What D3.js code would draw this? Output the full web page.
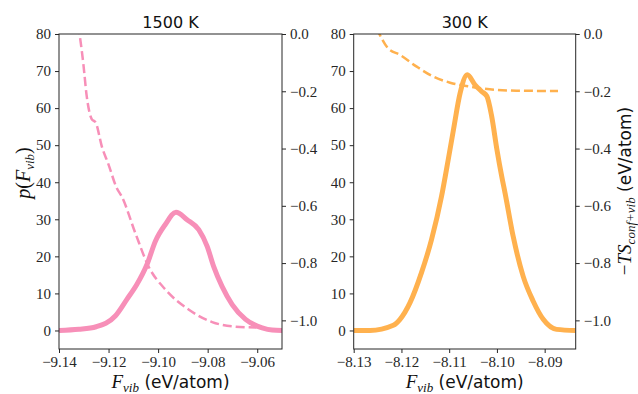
<!DOCTYPE html>
<html lang="en">
<head>
    <meta charset="UTF-8">
    <title>p(F_vib) at 1500 K and 300 K</title>
    <script src="https://d3js.org/d3.v7.min.js"></script>
    <style>
        body { margin: 0; background: #fff; }
        .tick line { stroke: #262626; }
        .sans { font-family: "DejaVu Sans", sans-serif; fill: #111; }
        .serif { font-family: "Liberation Serif", serif; font-style: italic; fill: #111; }
    </style>
</head>
<body>
    <svg width="638" height="394"></svg>
    <script>
        // 1500 K panel
        const hotX = [-9.14, -9.132, -9.125, -9.1173, -9.1126, -9.1086, -9.1045, -9.1011, -9.0971, -9.0928,
                      -9.0883, -9.0836, -9.0802, -9.0776, -9.0742, -9.0701, -9.0647, -9.058, -9.054, -9.05];
        const hotP = [0.0, 0.3, 1.0, 3.9, 8.4, 12.4, 17.8, 24.1, 28.6, 31.9,
                      29.9, 27.2, 22.7, 17.3, 11.9, 7.0, 3.0, 0.7, 0.1, 0.0];
        const hotTsX = [-9.1322, -9.1302, -9.1288, -9.1268, -9.1252, -9.1227, -9.12, -9.1167, -9.1147, -9.1092,
                        -9.1039, -9.0971, -9.0877, -9.0782, -9.0688, -9.0603];
        const hotTs = [0.03, -0.102, -0.218, -0.297, -0.309, -0.393, -0.456, -0.538, -0.567, -0.695,
                       -0.811, -0.892, -0.962, -1.006, -1.022, -1.025];

        // 300 K panel
        const coldX = [-8.13, -8.1266, -8.1217, -8.1203, -8.1182, -8.1158, -8.1137, -8.1116, -8.1102, -8.1091,
                       -8.1077, -8.1062, -8.1046, -8.1032, -8.1021, -8.1011, -8.1, -8.099, -8.0983, -8.0966,
                       -8.0945, -8.0924, -8.0903, -8.0875, -8.0835];
        const coldP = [0.0, 0.0, 1.4, 3.0, 7.5, 15.6, 24.5, 36.2, 46.1, 54.2,
                       64.1, 69.0, 66.3, 64.5, 63.2, 57.8, 48.8, 41.6, 37.1, 25.4,
                       14.6, 7.9, 3.0, 0.3, 0.0];
        const coldTsX = [-8.1252, -8.1228, -8.1203, -8.1168, -8.1133, -8.1098, -8.1056, -8.1015, -8.0959, -8.0872];
        const coldTs = [0.02, -0.05, -0.073, -0.114, -0.149, -0.17, -0.184, -0.193, -0.198, -0.199];

        const xTicksHot = [-9.14, -9.12, -9.10, -9.08, -9.06];
        const xTicksCold = [-8.13, -8.12, -8.11, -8.10, -8.09];
        const pTicks = [0, 10, 20, 30, 40, 50, 60, 70, 80];
        const tsTicks = [0, -0.2, -0.4, -0.6, -0.8, -1.0];

        const svg = d3.select("svg");
        const plotTop = 34, plotBottom = 349;

        const panels = [
            { title: "1500 K", left: 59, right: 282, xDom: [-9.14, -9.05], xTicks: xTicksHot,
              x: hotX, p: hotP, tsX: hotTsX, ts: hotTs, color: "#f78fb8" },
            { title: "300 K", left: 353.7, right: 575.7, xDom: [-8.13, -8.0835], xTicks: xTicksCold,
              x: coldX, p: coldP, tsX: coldTsX, ts: coldTs, color: "#ffb14e" }
        ];

        // serif tick labels, like the mathtext ones
        function styleAxis(a) {
            a.select(".domain").remove();
            a.attr("font-family", null).attr("font-size", null);
            a.selectAll(".tick text")
                .style("font-family", "'Liberation Serif', serif")
                .style("font-size", "15px")
                .attr("fill", "#262626");
        }

        panels.forEach((pn, i) => {
            const x = d3.scaleLinear().domain(pn.xDom).range([pn.left, pn.right]);
            const yP = d3.scaleLinear().domain([-5, 80]).range([plotBottom, plotTop]);
            const yT = d3.scaleLinear().domain([-1.1, 0]).range([plotBottom, plotTop]);

            const clipId = "clip" + i;
            svg.append("clipPath").attr("id", clipId)
                .append("rect")
                .attr("x", pn.left).attr("y", plotTop)
                .attr("width", pn.right - pn.left).attr("height", plotBottom - plotTop);

            const g = svg.append("g").attr("clip-path", `url(#${clipId})`);

            const lineP = d3.line().x(d => x(d[0])).y(d => yP(d[1])).curve(d3.curveMonotoneX);
            const lineT = d3.line().x(d => x(d[0])).y(d => yT(d[1])).curve(d3.curveMonotoneX);

            g.append("path")
                .datum(d3.zip(pn.tsX, pn.ts))
                .attr("d", lineT)
                .attr("fill", "none")
                .attr("stroke", pn.color)
                .attr("stroke-width", 2.5)
                .attr("stroke-dasharray", "9,4");

            g.append("path")
                .datum(d3.zip(pn.x, pn.p))
                .attr("d", lineP)
                .attr("fill", "none")
                .attr("stroke", pn.color)
                .attr("stroke-width", 5)
                .attr("stroke-linejoin", "round")
                .attr("stroke-linecap", "butt");

            // axes
            svg.append("g")
                .attr("transform", `translate(0,${plotBottom})`)
                .call(d3.axisBottom(x).tickValues(pn.xTicks).tickFormat(d3.format(".2f")).tickSize(4).tickPadding(3))
                .call(styleAxis);
            svg.append("g")
                .attr("transform", `translate(${pn.left},0)`)
                .call(d3.axisLeft(yP).tickValues(pTicks).tickFormat(d3.format("d")).tickSize(4).tickPadding(4))
                .call(styleAxis);
            svg.append("g")
                .attr("transform", `translate(${pn.right},0)`)
                .call(d3.axisRight(yT).tickValues(tsTicks).tickFormat(d3.format(".1f")).tickSize(4).tickPadding(4))
                .call(styleAxis);

            svg.append("rect")
                .attr("x", pn.left).attr("y", plotTop)
                .attr("width", pn.right - pn.left).attr("height", plotBottom - plotTop)
                .attr("fill", "none").attr("stroke", "#262626").attr("stroke-width", 1);

            const cx = (pn.left + pn.right) / 2;
            svg.append("text").attr("class", "sans")
                .attr("x", cx).attr("y", 28)
                .attr("text-anchor", "middle")
                .style("font-size", "16px")
                .text(pn.title);

            // x label: F_vib (eV/atom)
            const xl = svg.append("text")
                .attr("x", cx).attr("y", 388)
                .attr("text-anchor", "middle")
                .style("font-size", "19px");
            xl.append("tspan").attr("class", "serif").text("F");
            xl.append("tspan").attr("class", "serif").attr("dy", 4).style("font-size", "13px").text("vib");
            xl.append("tspan").attr("class", "sans").attr("dy", -4).style("font-size", "17px").text(" (eV/atom)");
        });

        // left y label: p(F_vib)
        const yl = svg.append("text")
            .attr("transform", "translate(30,173) rotate(-90)")
            .attr("text-anchor", "middle")
            .style("font-size", "20px");
        yl.append("tspan").attr("class", "serif").text("p");
        yl.append("tspan").attr("class", "serif").style("font-style", "normal").text("(");
        yl.append("tspan").attr("class", "serif").text("F");
        yl.append("tspan").attr("class", "serif").attr("dy", 4).style("font-size", "13px").text("vib");
        yl.append("tspan").attr("class", "serif").attr("dy", -4).style("font-style", "normal").text(")");

        // right y label: −TS_conf+vib (eV/atom)
        const yr = svg.append("text")
            .attr("transform", "translate(631,191) rotate(-90)")
            .attr("text-anchor", "middle")
            .style("font-size", "19px");
        yr.append("tspan").attr("class", "serif").style("font-style", "normal").text("\u2212");
        yr.append("tspan").attr("class", "serif").text("TS");
        yr.append("tspan").attr("class", "serif").attr("dy", 4).style("font-size", "13px").text("conf+vib");
        yr.append("tspan").attr("class", "sans").attr("dy", -4).style("font-size", "17px").text(" (eV/atom)");
    </script>
</body>
</html>
